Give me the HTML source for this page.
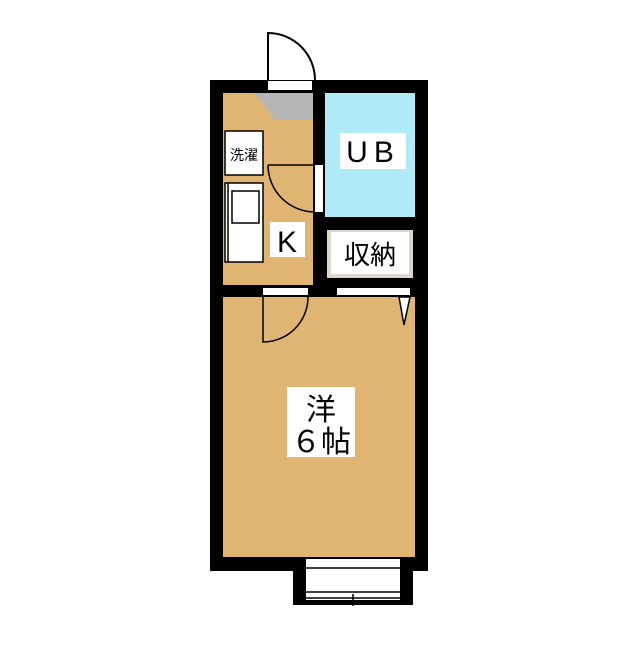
<!DOCTYPE html>
<html><head><meta charset="utf-8"><style>
body{margin:0;background:#fff;width:640px;height:640px;overflow:hidden}
</style></head><body>
<svg width="640" height="640" viewBox="0 0 640 640" xmlns="http://www.w3.org/2000/svg" font-family="Liberation Sans, Noto Sans CJK JP, sans-serif">
<rect x="0" y="0" width="640" height="640" fill="#fff"/>
<rect x="210" y="80" width="218" height="491" fill="#000"/>
<rect x="223" y="93" width="90" height="192" fill="#e0b572"/>
<rect x="325" y="93" width="90" height="124" fill="#aeeaf8"/>
<rect x="327" y="230" width="86" height="48" fill="#ddd8cc"/>
<rect x="331" y="232" width="78" height="42" fill="#fff"/>
<rect x="223" y="297" width="192" height="260" fill="#e0b572"/>
<polygon points="255,93 313,93 313,120 275,120" fill="#b5b5b5"/>
<rect x="268" y="81" width="44" height="9" fill="#fff"/>
<path d="M268,80 L268,33 A47,47 0 0 1 315,80" fill="#fff" stroke="#000" stroke-width="2"/>
<rect x="225" y="131" width="38" height="44" fill="#fff" stroke="#000" stroke-width="1.5"/>
<text x="244" y="160" font-size="14" text-anchor="middle">洗濯</text>
<rect x="225" y="183" width="38" height="79" fill="#fff" stroke="#000" stroke-width="1.5"/>
<line x1="228" y1="183" x2="228" y2="262" stroke="#000" stroke-width="1.5"/>
<rect x="232" y="191" width="27" height="32" fill="#fff" stroke="#000" stroke-width="1.5"/>
<rect x="315" y="165" width="8" height="47" fill="#fff"/>
<path d="M268,165 L315,165 M268,165 A47,47 0 0 0 315,212" fill="none" stroke="#000" stroke-width="1.5"/>
<rect x="340" y="133" width="66" height="36" fill="#fff"/>
<text x="373" y="162" font-size="30" text-anchor="middle" letter-spacing="6">UB</text>
<rect x="270" y="222" width="35" height="35" fill="#fff"/>
<text x="287" y="252" font-size="30" text-anchor="middle">K</text>
<text x="370" y="264" font-size="26" text-anchor="middle">収納</text>
<rect x="263" y="288" width="45" height="7" fill="#fff"/>
<path d="M263,297 L263,342 A45,45 0 0 0 308,297" fill="none" stroke="#000" stroke-width="1.5"/>
<rect x="337" y="288" width="73" height="7" fill="#fff"/>
<polygon points="399,297 410,297 404,325" fill="#fff" stroke="#000" stroke-width="1.5"/>
<rect x="287" y="387" width="68" height="70" fill="#fff"/>
<text x="321" y="420" font-size="30" text-anchor="middle">洋</text>
<text x="321" y="452" font-size="30" text-anchor="middle">６帖</text>
<rect x="293" y="560" width="120" height="45" fill="#000"/>
<rect x="306" y="559" width="94" height="41" fill="#fff"/>
<line x1="306" y1="568" x2="400" y2="568" stroke="#000" stroke-width="1.5"/>
<line x1="306" y1="592" x2="400" y2="592" stroke="#000" stroke-width="1.5"/>
<line x1="306" y1="598" x2="400" y2="598" stroke="#000" stroke-width="1.5"/>
<line x1="353" y1="594" x2="353" y2="606" stroke="#000" stroke-width="1.5"/>
</svg>
</body></html>
